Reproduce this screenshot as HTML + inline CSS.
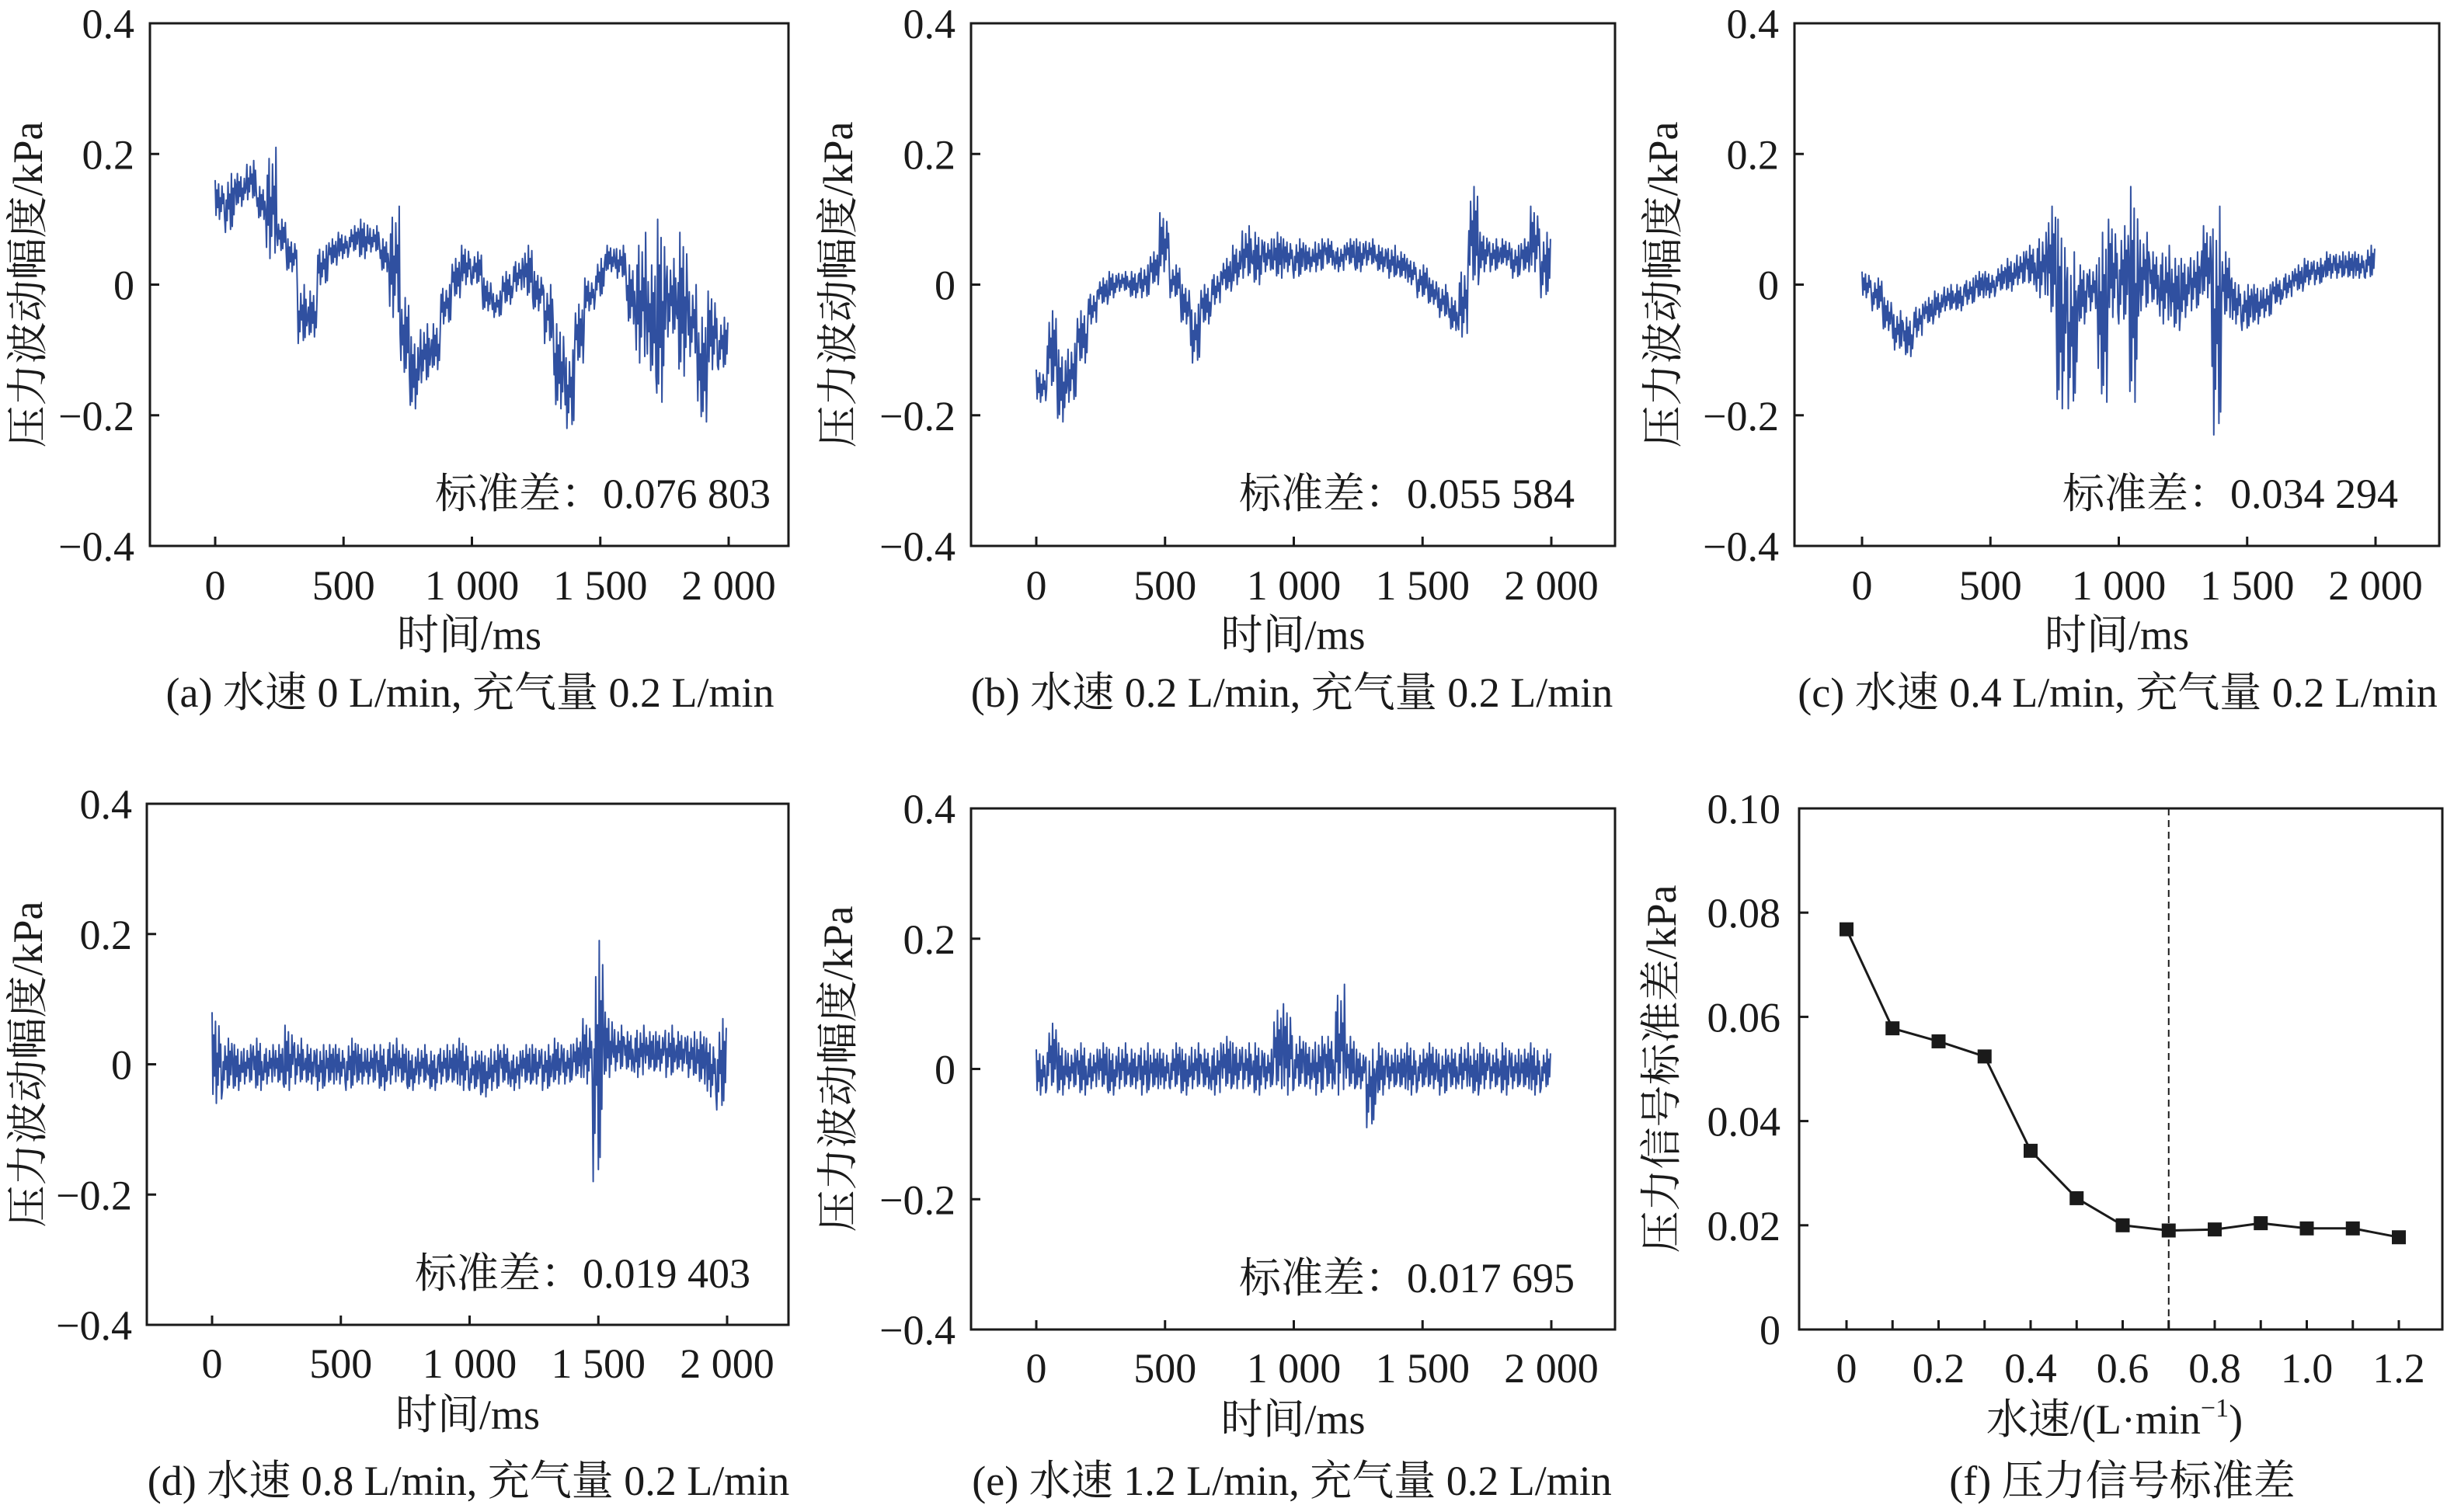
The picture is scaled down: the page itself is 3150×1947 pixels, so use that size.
<!DOCTYPE html>
<html><head><meta charset="utf-8"><style>
html,body{margin:0;padding:0;background:#fff;}
svg{display:block;}
text{font-family:"Liberation Serif","Noto Serif CJK SC","Noto Sans CJK SC",serif;fill:#1a1a1a;}
</style></head><body>
<svg id="fig" xmlns="http://www.w3.org/2000/svg" width="3150" height="1947" viewBox="0 0 3150 1947"></svg>
<script>
// ---- data ----
const timeTicks = [0, 500, 1000, 1500, 2000];
const timeTickLabels = ["0", "500", "1 000", "1 500", "2 000"];
const ampTicks = [0.4, 0.2, 0, -0.2, -0.4];
const ampTickLabels = ["0.4", "0.2", "0", "\u22120.2", "\u22120.4"];
const binWidthMs = 40;
const aLo = [0.10,0.08,0.12,0.13,0.10,0.04,0.05,0.02,-0.09,-0.08,0.0,0.03,0.04,0.05,0.04,0.05,0.02,-0.05,-0.14,-0.19,-0.15,-0.13,-0.06,-0.02,0.0,0.0,-0.04,-0.05,-0.03,-0.01,-0.02,-0.04,-0.09,-0.19,-0.22,-0.12,-0.04,-0.02,0.02,0.01,-0.06,-0.12,-0.14,-0.18,-0.08,-0.14,-0.11,-0.21,-0.13,-0.13];
const aHi = [0.16,0.17,0.17,0.19,0.15,0.21,0.10,0.07,0.0,-0.01,0.06,0.07,0.08,0.09,0.10,0.09,0.07,0.12,-0.02,-0.08,-0.06,-0.06,0.0,0.04,0.06,0.05,0.01,-0.01,0.02,0.04,0.06,0.02,0.0,-0.06,-0.10,-0.03,0.01,0.04,0.06,0.06,0.03,0.08,0.03,0.10,0.04,0.08,0.0,-0.05,-0.01,-0.05];
const bLo = [-0.18,-0.16,-0.21,-0.18,-0.12,-0.06,-0.03,-0.02,-0.01,-0.02,-0.02,0.0,0.02,-0.02,-0.06,-0.12,-0.06,-0.03,-0.01,0.0,0.01,0.0,0.02,0.01,0.02,0.01,0.02,0.02,0.03,0.02,0.03,0.02,0.03,0.02,0.01,0.01,0.0,-0.02,-0.03,-0.05,-0.07,-0.08,0.0,0.02,0.02,0.03,0.01,0.02,0.02,-0.02];
const bHi = [-0.13,-0.04,-0.10,-0.09,-0.04,-0.01,0.01,0.02,0.02,0.02,0.03,0.05,0.11,0.03,0.0,-0.03,0.0,0.02,0.04,0.06,0.09,0.08,0.07,0.08,0.07,0.07,0.06,0.07,0.07,0.06,0.07,0.07,0.07,0.06,0.06,0.05,0.04,0.03,0.01,0.0,-0.02,0.03,0.15,0.08,0.07,0.07,0.06,0.07,0.12,0.08];
const cLo = [-0.02,-0.04,-0.07,-0.10,-0.11,-0.08,-0.06,-0.05,-0.04,-0.04,-0.03,-0.02,-0.02,-0.01,-0.01,0.0,0.0,-0.02,-0.05,-0.19,-0.19,-0.06,-0.04,-0.18,-0.05,-0.06,-0.18,-0.04,-0.03,-0.06,-0.07,-0.05,-0.04,-0.02,-0.23,-0.05,-0.06,-0.07,-0.06,-0.05,-0.03,-0.02,-0.01,0.0,0.0,0.01,0.01,0.01,0.01,0.01];
const cHi = [0.02,0.01,-0.02,-0.04,-0.05,-0.03,-0.02,-0.01,0.0,0.0,0.01,0.02,0.02,0.03,0.04,0.05,0.06,0.08,0.12,0.10,0.05,0.03,0.03,0.08,0.10,0.09,0.15,0.08,0.05,0.06,0.04,0.04,0.05,0.09,0.12,0.05,0.01,0.0,0.0,0.0,0.01,0.02,0.03,0.04,0.04,0.05,0.05,0.05,0.05,0.06];
const dLo = [-0.06,-0.04,-0.04,-0.03,-0.04,-0.03,-0.03,-0.04,-0.03,-0.03,-0.04,-0.03,-0.03,-0.04,-0.03,-0.03,-0.04,-0.03,-0.03,-0.04,-0.03,-0.04,-0.03,-0.03,-0.04,-0.04,-0.05,-0.04,-0.03,-0.04,-0.03,-0.03,-0.04,-0.03,-0.03,-0.02,-0.03,-0.18,-0.02,-0.01,-0.01,-0.02,-0.01,-0.01,-0.02,-0.01,-0.02,-0.03,-0.05,-0.07];
const dHi = [0.08,0.04,0.03,0.03,0.04,0.03,0.03,0.06,0.04,0.03,0.03,0.03,0.03,0.04,0.03,0.03,0.03,0.04,0.03,0.02,0.03,0.02,0.03,0.03,0.04,0.02,0.02,0.03,0.03,0.02,0.03,0.03,0.03,0.04,0.03,0.04,0.07,0.19,0.08,0.06,0.05,0.06,0.05,0.05,0.06,0.05,0.05,0.05,0.04,0.07];
const eLo = [-0.04,-0.03,-0.04,-0.03,-0.04,-0.03,-0.03,-0.04,-0.03,-0.03,-0.04,-0.03,-0.03,-0.03,-0.04,-0.03,-0.03,-0.04,-0.03,-0.03,-0.03,-0.04,-0.03,-0.03,-0.04,-0.03,-0.03,-0.04,-0.03,-0.04,-0.03,-0.03,-0.09,-0.04,-0.03,-0.03,-0.04,-0.03,-0.03,-0.04,-0.03,-0.03,-0.04,-0.03,-0.03,-0.04,-0.03,-0.03,-0.04,-0.03];
const eHi = [0.03,0.07,0.04,0.03,0.04,0.03,0.04,0.03,0.04,0.03,0.04,0.03,0.03,0.04,0.03,0.04,0.03,0.04,0.05,0.04,0.04,0.04,0.03,0.09,0.10,0.05,0.04,0.05,0.05,0.13,0.05,0.03,0.03,0.04,0.03,0.03,0.04,0.03,0.04,0.03,0.03,0.04,0.03,0.04,0.03,0.04,0.03,0.03,0.04,0.03];
const stdLabels = ["标准差：0.076 803","标准差：0.055 584","标准差：0.034 294","标准差：0.019 403","标准差：0.017 695"];
const captions = ["(a) 水速 0 L/min, 充气量 0.2 L/min","(b) 水速 0.2 L/min, 充气量 0.2 L/min","(c) 水速 0.4 L/min, 充气量 0.2 L/min","(d) 水速 0.8 L/min, 充气量 0.2 L/min","(e) 水速 1.2 L/min, 充气量 0.2 L/min"];
// panel f
const flowRates = [0,0.1,0.2,0.3,0.4,0.5,0.6,0.7,0.8,0.9,1.0,1.1,1.2];
const stdValues = [0.0768,0.0578,0.0553,0.0524,0.0343,0.0252,0.0200,0.0190,0.0192,0.0204,0.0194,0.0194,0.0177];
const fXTicks = [0,0.2,0.4,0.6,0.8,1.0,1.2];
const fXTickLabels = ["0","0.2","0.4","0.6","0.8","1.0","1.2"];
const fYTicks = [0.10,0.08,0.06,0.04,0.02,0];
const fYTickLabels = ["0.10","0.08","0.06","0.04","0.02","0"];
const thresholdRate = [0.7];

// ---- drawing ----
const NS = "http://www.w3.org/2000/svg";
const svg = document.getElementById("fig");
function mk(tag, attrs, parent) {
  const e = document.createElementNS(NS, tag);
  for (const k in attrs) e.setAttribute(k, attrs[k]);
  (parent || svg).appendChild(e);
  return e;
}
function txt(str, x, y, anchor, size, parent, rot) {
  const t = mk("text", {x: x, y: y, "text-anchor": anchor, "font-size": size}, parent);
  if (rot) t.setAttribute("transform", "rotate(-90 " + x + " " + y + ")");
  t.textContent = str;
  return t;
}
const FS = 54;
const BLUE = "#3050a0";
// within-bin sampling pattern (fraction of the bin's lo..hi range)
const subPattern = [1, 0.1, 0.75, 0.3, 0.9, 0, 0.55, 0.2, 0.85, 0.4, 0.65, 0.05];

const panels = [
  {id:"a", lo:aLo, hi:aHi, l:193, r:1015, t:30, b:703, x0:277, x1:938, ytl:173, yt:36, std:{x:992,y:654}, tickY:772, titleY:836, capX:605, capY:910},
  {id:"b", lo:bLo, hi:bHi, l:1250, r:2079, t:30, b:703, x0:1334, x1:1997, ytl:1230, yt:1079, std:{x:2027,y:654}, tickY:772, titleY:836, capX:1663, capY:910},
  {id:"c", lo:cLo, hi:cHi, l:2310, r:3140, t:30, b:703, x0:2397, x1:3058, ytl:2290, yt:2141, std:{x:3087,y:654}, tickY:772, titleY:836, capX:2726, capY:910},
  {id:"d", lo:dLo, hi:dHi, l:189, r:1015, t:1035, b:1706, x0:273, x1:936, ytl:170, yt:36, std:{x:966,y:1658}, tickY:1774, titleY:1840, capX:603, capY:1925},
  {id:"e", lo:eLo, hi:eHi, l:1250, r:2079, t:1041, b:1712, x0:1334, x1:1997, ytl:1230, yt:1079, std:{x:2027,y:1664}, tickY:1780, titleY:1846, capX:1663, capY:1925}
];

panels.forEach((p, i) => {
  const g = mk("g", {});
  
  
  const xs = v => p.x0 + (v / 2000) * (p.x1 - p.x0);
  const ys = v => p.t + (0.4 - v) / 0.8 * (p.b - p.t);
  let pts = [];
  const sub = subPattern.length;
  for (let k = 0; k < p.lo.length; k++) {
    for (let s = 0; s < sub; s++) {
      const tm = k * binWidthMs + s * binWidthMs / sub;
      const f = subPattern[(s + k * 5) % sub];
      const v = p.lo[k] + f * (p.hi[k] - p.lo[k]);
      pts.push(xs(tm).toFixed(1) + "," + ys(v).toFixed(1));
    }
  }
  const line = mk("polyline", {points: pts.join(" "), fill: "none", stroke: BLUE, "stroke-width": 2, "stroke-linejoin": "round"}, g);
  
  
  const box = mk("rect", {x: p.l, y: p.t, width: p.r - p.l, height: p.b - p.t, fill: "none", stroke: "#1a1a1a", "stroke-width": 3}, g);
  
  
  ampTicks.forEach((v, j) => {
    mk("line", {x1: p.l, x2: p.l + 12, y1: ys(v), y2: ys(v), stroke: "#1a1a1a", "stroke-width": 3}, g);
    const t = txt(ampTickLabels[j], p.ytl, ys(v) + 19, "end", FS, g);
    
    
  });
  timeTicks.forEach((v, j) => {
    mk("line", {x1: xs(v), x2: xs(v), y1: p.b, y2: p.b - 12, stroke: "#1a1a1a", "stroke-width": 3}, g);
    const t = txt(timeTickLabels[j], xs(v), p.tickY, "middle", FS, g);
    
    
  });
  const yt = txt("压力波动幅度/kPa", p.yt + 18, (p.t + p.b) / 2, "middle", FS, g, true);
  
  
  const xt = txt("时间/ms", (p.l + p.r) / 2 + 0, p.titleY, "middle", FS, g);
  
  
  const st = txt(stdLabels[i], p.std.x, p.std.y, "end", FS, g);
  
  
  const cp = txt(captions[i], p.capX, p.capY, "middle", FS, g);
  
  
});

// panel f
(function () {
  const p = {l: 2316, r: 3144, t: 1041, b: 1712, x0: 2377, x1: 3088};
  const g = mk("g", {});
  
  
  const xs = v => p.x0 + (v / 1.2) * (p.x1 - p.x0);
  const ys = v => p.b - (v / 0.10) * (p.b - p.t);
  const box = mk("rect", {x: p.l, y: p.t, width: p.r - p.l, height: p.b - p.t, fill: "none", stroke: "#1a1a1a", "stroke-width": 3}, g);
  
  
  fYTicks.forEach((v, j) => {
    mk("line", {x1: p.l, x2: p.l + 12, y1: ys(v), y2: ys(v), stroke: "#1a1a1a", "stroke-width": 3}, g);
    const t = txt(fYTickLabels[j], 2292, ys(v) + 19, "end", FS, g);
    
    
  });
  flowRates.forEach(v => {
    mk("line", {x1: xs(v), x2: xs(v), y1: p.b, y2: p.b - 12, stroke: "#1a1a1a", "stroke-width": 3}, g);
  });
  fXTicks.forEach((v, j) => {
    const t = txt(fXTickLabels[j], xs(v), 1780, "middle", FS, g);
    
    
  });
  const dl = mk("line", {x1: xs(thresholdRate[0]), x2: xs(thresholdRate[0]), y1: p.t, y2: p.b, stroke: "#1a1a1a", "stroke-width": 2, "stroke-dasharray": "9,6"}, g);
  
  
  const pts = flowRates.map((v, k) => xs(v).toFixed(1) + "," + ys(stdValues[k]).toFixed(1)).join(" ");
  const pl = mk("polyline", {points: pts, fill: "none", stroke: "#1a1a1a", "stroke-width": 3}, g);
  
  
  flowRates.forEach((v, k) => {
    const m = mk("rect", {x: xs(v) - 9, y: ys(stdValues[k]) - 9, width: 18, height: 18, fill: "#1a1a1a"}, g);
    
    
  });
  const yt = txt("压力信号标准差/kPa", 2157, (p.t + p.b) / 2, "middle", FS, g, true);
  
  
  const xt = mk("text", {x: 2722, y: 1846, "text-anchor": "middle", "font-size": FS}, g);
  xt.innerHTML = '水速/(L·min<tspan font-size="34" dy="-22">−1</tspan><tspan dy="22">)</tspan>';
  
  
  const cp = txt("(f) 压力信号标准差", 2732, 1925, "middle", FS, g);
  
  
})();
</script>
</body></html>
